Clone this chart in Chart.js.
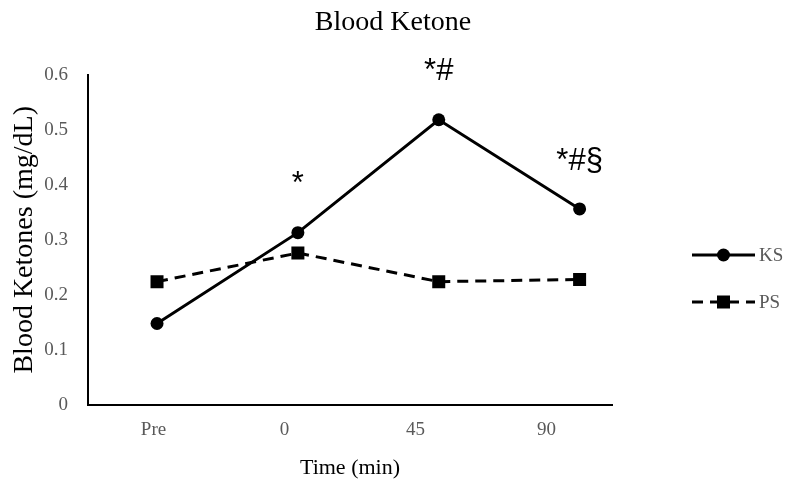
<!DOCTYPE html>
<html>
<head>
<meta charset="utf-8">
<script src="https://cdn.jsdelivr.net/npm/chart.js"></script>
<style>
  html, body { margin: 0; padding: 0; background: #fff; }
  #wrap { width: 786px; height: 481px; }
</style>
</head>
<body>
<div id="wrap"><canvas id="ketoneChart" width="786" height="481"></canvas></div>
<script>
  // values
  const categories = ["Pre", "0", "45", "90"];
  const ksValues = [0.148, 0.313, 0.518, 0.356];
  const psValues = [0.224, 0.276, 0.224, 0.228];
  const ksMarks = ["", "*", "*#", "*#§"];
  const yTicks = [0, 0.1, 0.2, 0.3, 0.4, 0.5, 0.6];

  const serif = "'Liberation Serif', 'Times New Roman', serif";
  const tickGray = "#595959";

  // significance marks above the KS points
  const marksPlugin = {
    id: "marks",
    afterDatasetsDraw(chart) {
      const { ctx, scales } = chart;
      ctx.save();
      ctx.fillStyle = "#000";
      ctx.font = "31px 'Liberation Sans', Arial, sans-serif";
      ctx.textAlign = "center";
      ctx.textBaseline = "middle";
      ksMarks.forEach((m, i) => {
        if (!m) return;
        const x = scales.xp.getPixelForValue(i);
        const y = scales.y.getPixelForValue(ksValues[i]);
        ctx.fillText(m, x, y - 48);
      });
      ctx.restore();
    },
  };

  // legend on the right: line with marker in the middle
  const sideLegend = {
    id: "sideLegend",
    afterDraw(chart) {
      const { ctx, chartArea } = chart;
      const x0 = chartArea.right + 80;
      const x1 = x0 + 63;
      const rows = [255, 302];
      ctx.save();
      chart.data.datasets.forEach((ds, i) => {
        const y = rows[i];
        ctx.strokeStyle = "#000";
        ctx.lineWidth = 3;
        ctx.setLineDash(ds.borderDash || []);
        ctx.beginPath();
        ctx.moveTo(x0, y);
        ctx.lineTo(x1, y);
        ctx.stroke();
        ctx.setLineDash([]);
        ctx.fillStyle = "#000";
        Chart.helpers.drawPoint(ctx, {
          pointStyle: ds.pointStyle,
          radius: ds.pointRadius,
          borderWidth: 0,
        }, (x0 + x1) / 2, y);
        ctx.fillStyle = tickGray;
        ctx.font = "19px " + serif;
        ctx.textAlign = "left";
        ctx.textBaseline = "middle";
        ctx.fillText(ds.label, x1 + 4, y + 1);
      });
      ctx.restore();
    },
  };

  new Chart(document.getElementById("ketoneChart"), {
    type: "line",
    data: {
      labels: categories,
      datasets: [
        {
          label: "KS",
          data: ksValues.map((v, i) => ({ x: i, y: v })),
          xAxisID: "xp",
          borderColor: "#000",
          backgroundColor: "#000",
          borderWidth: 3,
          pointStyle: "circle",
          pointRadius: 6.5,
          pointBorderWidth: 0,
          tension: 0,
        },
        {
          label: "PS",
          data: psValues.map((v, i) => ({ x: i, y: v })),
          xAxisID: "xp",
          borderColor: "#000",
          backgroundColor: "#000",
          borderWidth: 3,
          borderDash: [11, 7],
          pointStyle: "rect",
          pointRadius: 9.2,
          pointBorderWidth: 0,
          tension: 0,
        },
      ],
    },
    options: {
      responsive: false,
      animation: false,
      layout: { padding: 0 },
      plugins: {
        legend: { display: false },
        tooltip: { enabled: false },
        title: {
          display: true,
          text: "Blood Ketone",
          color: "#000",
          font: { family: serif, size: 28, weight: "normal" },
          padding: { top: 6, bottom: 35 },
        },
      },
      scales: {
        x: {
          type: "category",
          offset: true,
          grid: { display: false, drawTicks: false },
          border: { display: true, color: "#000", width: 2 },
          ticks: { color: tickGray, font: { family: serif, size: 19 }, padding: 14 },
          title: {
            display: true,
            text: "Time (min)",
            color: "#000",
            font: { family: serif, size: 22 },
            padding: 0,
          },
          afterFit(scale) { scale.height = 76; },
        },
        xp: {
          type: "linear",
          display: false,
          position: "bottom",
          min: -0.49,
          max: 3.23,
        },
        y: {
          min: 0,
          max: 0.6,
          afterBuildTicks(scale) { scale.ticks = yTicks.map((v) => ({ value: v })); },
          grid: { display: false, drawTicks: false },
          border: { display: true, color: "#000", width: 2 },
          ticks: {
            color: tickGray,
            font: { family: serif, size: 19 },
            padding: 20,
            callback: (v) => String(v),
          },
          title: {
            display: true,
            text: "Blood Ketones (mg/dL)",
            color: "#000",
            font: { family: serif, size: 28 },
            padding: { top: 8, bottom: 0 },
          },
          afterFit(scale) { scale.width = 88; },
        },
        // empty right-hand scale that reserves room for the legend
        side: {
          position: "right",
          grid: { display: false, drawTicks: false },
          border: { display: false },
          ticks: { display: false },
          afterFit(scale) { scale.width = 174; },
        },
      },
    },
    plugins: [marksPlugin, sideLegend],
  });
</script>
</body>
</html>
